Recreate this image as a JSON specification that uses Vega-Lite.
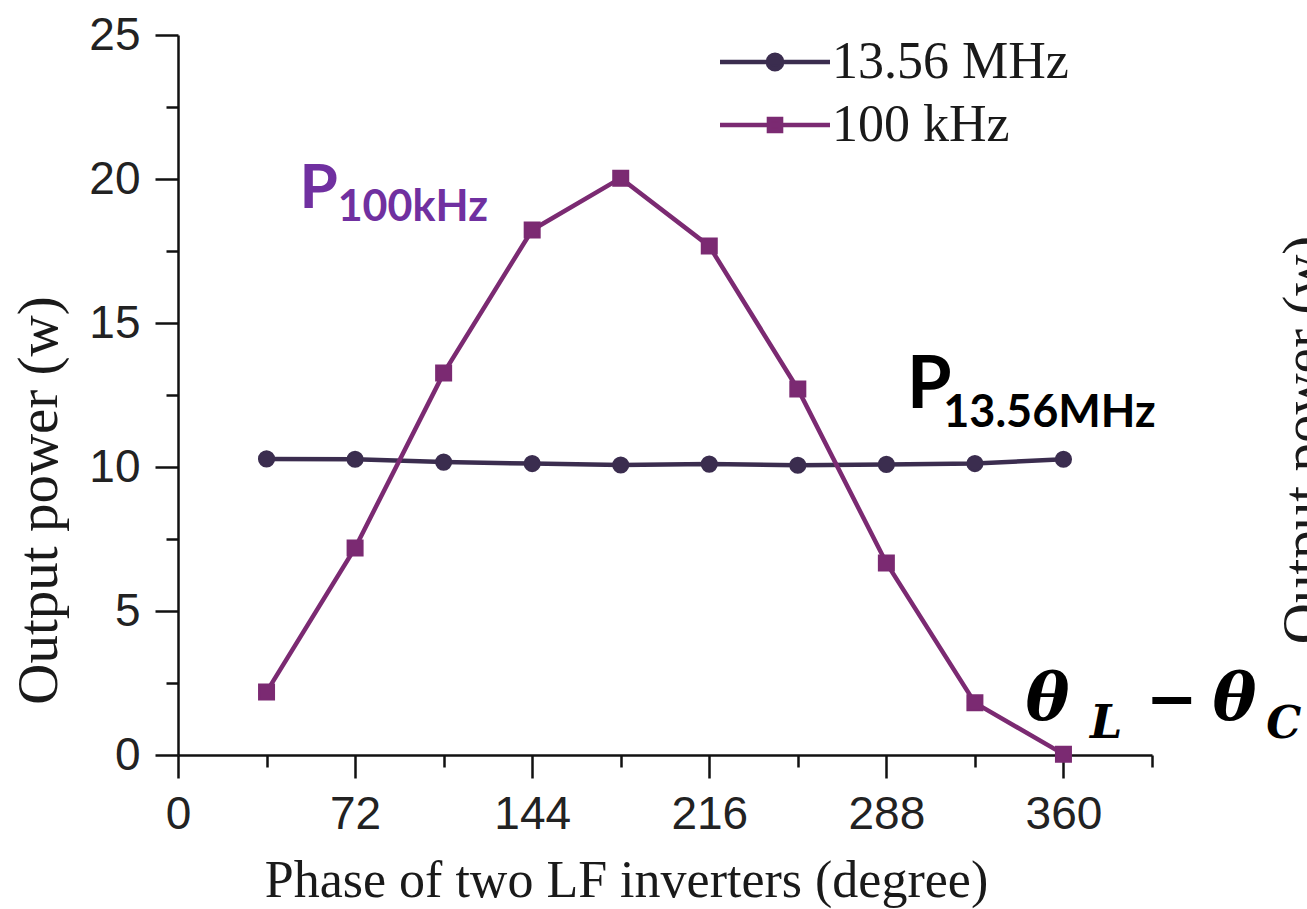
{
  "$schema": "https://vega.github.io/schema/vega-lite/v6.json",
  "width": 974,
  "height": 720,
  "autosize": "none",
  "padding": {"left": 178, "top": 35, "right": 155, "bottom": 154},
  "background": "white",
  "config": {"view": {"stroke": null}, "axis": {"grid": false}},
  "datasets": {
    "power": [
      {"series": "13.56 MHz", "phase": 36, "power": 10.28},
      {"series": "13.56 MHz", "phase": 72, "power": 10.27},
      {"series": "13.56 MHz", "phase": 108, "power": 10.17},
      {"series": "13.56 MHz", "phase": 144, "power": 10.12},
      {"series": "13.56 MHz", "phase": 180, "power": 10.07},
      {"series": "13.56 MHz", "phase": 216, "power": 10.1},
      {"series": "13.56 MHz", "phase": 252, "power": 10.06},
      {"series": "13.56 MHz", "phase": 288, "power": 10.09},
      {"series": "13.56 MHz", "phase": 324, "power": 10.12},
      {"series": "13.56 MHz", "phase": 360, "power": 10.27},
      {"series": "100 kHz", "phase": 36, "power": 2.19},
      {"series": "100 kHz", "phase": 72, "power": 7.19},
      {"series": "100 kHz", "phase": 108, "power": 13.26},
      {"series": "100 kHz", "phase": 144, "power": 18.23},
      {"series": "100 kHz", "phase": 180, "power": 20.03},
      {"series": "100 kHz", "phase": 216, "power": 17.67},
      {"series": "100 kHz", "phase": 252, "power": 12.71},
      {"series": "100 kHz", "phase": 288, "power": 6.67},
      {"series": "100 kHz", "phase": 324, "power": 1.81},
      {"series": "100 kHz", "phase": 360, "power": 0.03}
    ]
  },
  "layer": [
    {
      "data": {"name": "power"},
      "encoding": {
        "x": {
          "field": "phase", "type": "quantitative",
          "scale": {"domain": [0, 396], "nice": false, "zero": false},
          "axis": {
            "values": [0, 36, 72, 108, 144, 180, 216, 252, 288, 324, 360, 396],
            "labelExpr": "datum.value % 72 === 0 ? datum.label : ''",
            "tickSize": {"condition": {"test": "datum.value % 72 === 0", "value": 23}, "value": 12},
            "tickWidth": 2.5, "domainWidth": 2.5, "domainColor": "#111", "tickColor": "#111",
            "labelFont": "Liberation Sans", "labelFontSize": 46, "labelColor": "#222",
            "labelPadding": 14, "labelFlush": false, "labelOverlap": false,
            "title": "Phase of two LF inverters (degree)",
            "titleFont": "Liberation Serif", "titleFontSize": 52, "titleFontWeight": "normal",
            "titleColor": "#1a1a1a", "titleX": 448, "titleY": 141,
            "titleBaseline": "alphabetic", "titleAlign": "center"
          }
        },
        "y": {
          "field": "power", "type": "quantitative",
          "scale": {"domain": [0, 25], "nice": false, "zero": false},
          "axis": {
            "values": [0, 2.5, 5, 7.5, 10, 12.5, 15, 17.5, 20, 22.5, 25],
            "labelExpr": "datum.value % 5 === 0 ? datum.label : ''",
            "tickSize": {"condition": {"test": "datum.value % 5 === 0", "value": 23}, "value": 12},
            "tickWidth": 2.5, "domainWidth": 2.5, "domainColor": "#111", "tickColor": "#111",
            "labelFont": "Liberation Sans", "labelFontSize": 46, "labelColor": "#222",
            "labelPadding": 15, "labelFlush": false, "labelOverlap": false,
            "title": "Output power (w)",
            "titleFont": "Liberation Serif", "titleFontSize": 57, "titleFontWeight": "normal",
            "titleColor": "#1a1a1a", "titleX": -122, "titleY": 465,
            "titleBaseline": "alphabetic", "titleAlign": "center", "titleAngle": -90
          }
        },
        "color": {
          "field": "series", "type": "nominal",
          "scale": {"domain": ["13.56 MHz", "100 kHz"], "range": ["#3b2d4f", "#7b2a72"]},
          "legend": {
            "orient": "none", "legendX": 567, "legendY": -3, "title": null,
            "labelFont": "Liberation Serif", "labelFontSize": 52, "labelColor": "#1a1a1a",
            "labelOffset": 27, "labelLimit": 500, "symbolSize": 3025, "symbolStrokeWidth": 4.5,
            "rowPadding": 7, "padding": 0
          }
        },
        "stroke": {
          "field": "series", "type": "nominal",
          "scale": {"domain": ["13.56 MHz", "100 kHz"], "range": ["#3b2d4f", "#7b2a72"]},
          "legend": {
            "orient": "none", "legendX": 567, "legendY": -3, "title": null,
            "labelFont": "Liberation Serif", "labelFontSize": 52, "labelColor": "#1a1a1a",
            "labelOffset": 27, "labelLimit": 500, "symbolSize": 3025, "symbolStrokeWidth": 4.5,
            "rowPadding": 7, "padding": 0
          }
        },
        "shape": {
          "field": "series", "type": "nominal",
          "scale": {
            "domain": ["13.56 MHz", "100 kHz"],
            "range": [
              "M-2,0H2M0.26,0A0.26,0.26,0,1,1,-0.26,0A0.26,0.26,0,1,1,0.26,0Z",
              "M-2,0H2M-0.22,-0.22H0.22V0.22H-0.22Z"
            ]
          },
          "legend": {
            "orient": "none", "legendX": 567, "legendY": -3, "title": null,
            "labelFont": "Liberation Serif", "labelFontSize": 52, "labelColor": "#1a1a1a",
            "labelOffset": 27, "labelLimit": 500, "symbolSize": 3025, "symbolStrokeWidth": 4.5,
            "rowPadding": 7, "padding": 0
          }
        }
      },
      "layer": [
        {"mark": {"type": "line", "strokeWidth": 4.5}},
        {
          "transform": [{"filter": "datum.series === '13.56 MHz'"}],
          "mark": {"type": "circle", "opacity": 1, "size": 230}
        },
        {
          "transform": [{"filter": "datum.series === '100 kHz'"}],
          "mark": {"type": "square", "opacity": 1, "size": 225}
        },
        {
          "mark": {"type": "point", "filled": true, "opacity": 1, "size": 0, "strokeWidth": 4.5}
        }
      ]
    },
    {
      "data": {"values": [{"t": "P"}]},
      "mark": {"type": "text", "font": "Lato", "fontWeight": "bold", "fontSize": 62, "color": "#7030a0", "align": "left", "baseline": "alphabetic"},
      "encoding": {"text": {"field": "t"}, "x": {"datum": 49.4}, "y": {"datum": 18.99}}
    },
    {
      "data": {"values": [{"t": "100kHz"}]},
      "mark": {"type": "text", "font": "Lato", "fontWeight": "bold", "fontSize": 43, "color": "#7030a0", "align": "left", "baseline": "alphabetic"},
      "encoding": {"text": {"field": "t"}, "x": {"datum": 64.9}, "y": {"datum": 18.54}}
    },
    {
      "data": {"values": [{"t": "P"}]},
      "mark": {"type": "text", "font": "Lato", "fontWeight": "bold", "fontSize": 72, "color": "#000000", "align": "left", "baseline": "alphabetic"},
      "encoding": {"text": {"field": "t"}, "x": {"datum": 296.4}, "y": {"datum": 12.05}}
    },
    {
      "data": {"values": [{"t": "13.56MHz"}]},
      "mark": {"type": "text", "font": "Lato", "fontWeight": "bold", "fontSize": 45, "color": "#000000", "align": "left", "baseline": "alphabetic"},
      "encoding": {"text": {"field": "t"}, "x": {"datum": 311.1}, "y": {"datum": 11.39}}
    },
    {
      "data": {"values": [{"t": "θ"}]},
      "mark": {"type": "text", "font": "DejaVu Serif", "fontWeight": "bold", "fontStyle": "italic", "fontSize": 66, "color": "#000000", "align": "left", "baseline": "alphabetic"},
      "encoding": {"text": {"field": "t"}, "x": {"datum": 344.6}, "y": {"datum": 1.22}}
    },
    {
      "data": {"values": [{"t": "θ"}]},
      "mark": {"type": "text", "font": "DejaVu Serif", "fontWeight": "bold", "fontStyle": "italic", "fontSize": 66, "color": "#000000", "align": "left", "baseline": "alphabetic"},
      "encoding": {"text": {"field": "t"}, "x": {"datum": 420.6}, "y": {"datum": 1.22}}
    },
    {
      "data": {"values": [{"t": "L"}]},
      "mark": {"type": "text", "font": "DejaVu Serif", "fontWeight": "bold", "fontStyle": "italic", "fontSize": 46, "color": "#000000", "align": "left", "baseline": "alphabetic"},
      "encoding": {"text": {"field": "t"}, "x": {"datum": 370.8}, "y": {"datum": 0.6}}
    },
    {
      "data": {"values": [{"t": "C"}]},
      "mark": {"type": "text", "font": "DejaVu Serif", "fontWeight": "bold", "fontStyle": "italic", "fontSize": 44, "color": "#000000", "align": "left", "baseline": "alphabetic"},
      "encoding": {"text": {"field": "t"}, "x": {"datum": 442.4}, "y": {"datum": 0.6}}
    },
    {
      "data": {"values": [{"t": "−"}]},
      "mark": {"type": "text", "font": "DejaVu Serif", "fontWeight": "bold", "fontSize": 62, "color": "#000000", "align": "left", "baseline": "alphabetic"},
      "encoding": {"text": {"field": "t"}, "x": {"datum": 393.6}, "y": {"datum": 1.22}}
    },
    {
      "data": {"values": [{"t": "Output power (w)"}]},
      "mark": {"type": "text", "font": "Liberation Serif", "fontSize": 57, "color": "#1a1a1a", "align": "center", "baseline": "middle", "angle": 270},
      "encoding": {"text": {"field": "t"}, "x": {"datum": 458.2}, "y": {"datum": 10.94}}
    }
  ]
}
